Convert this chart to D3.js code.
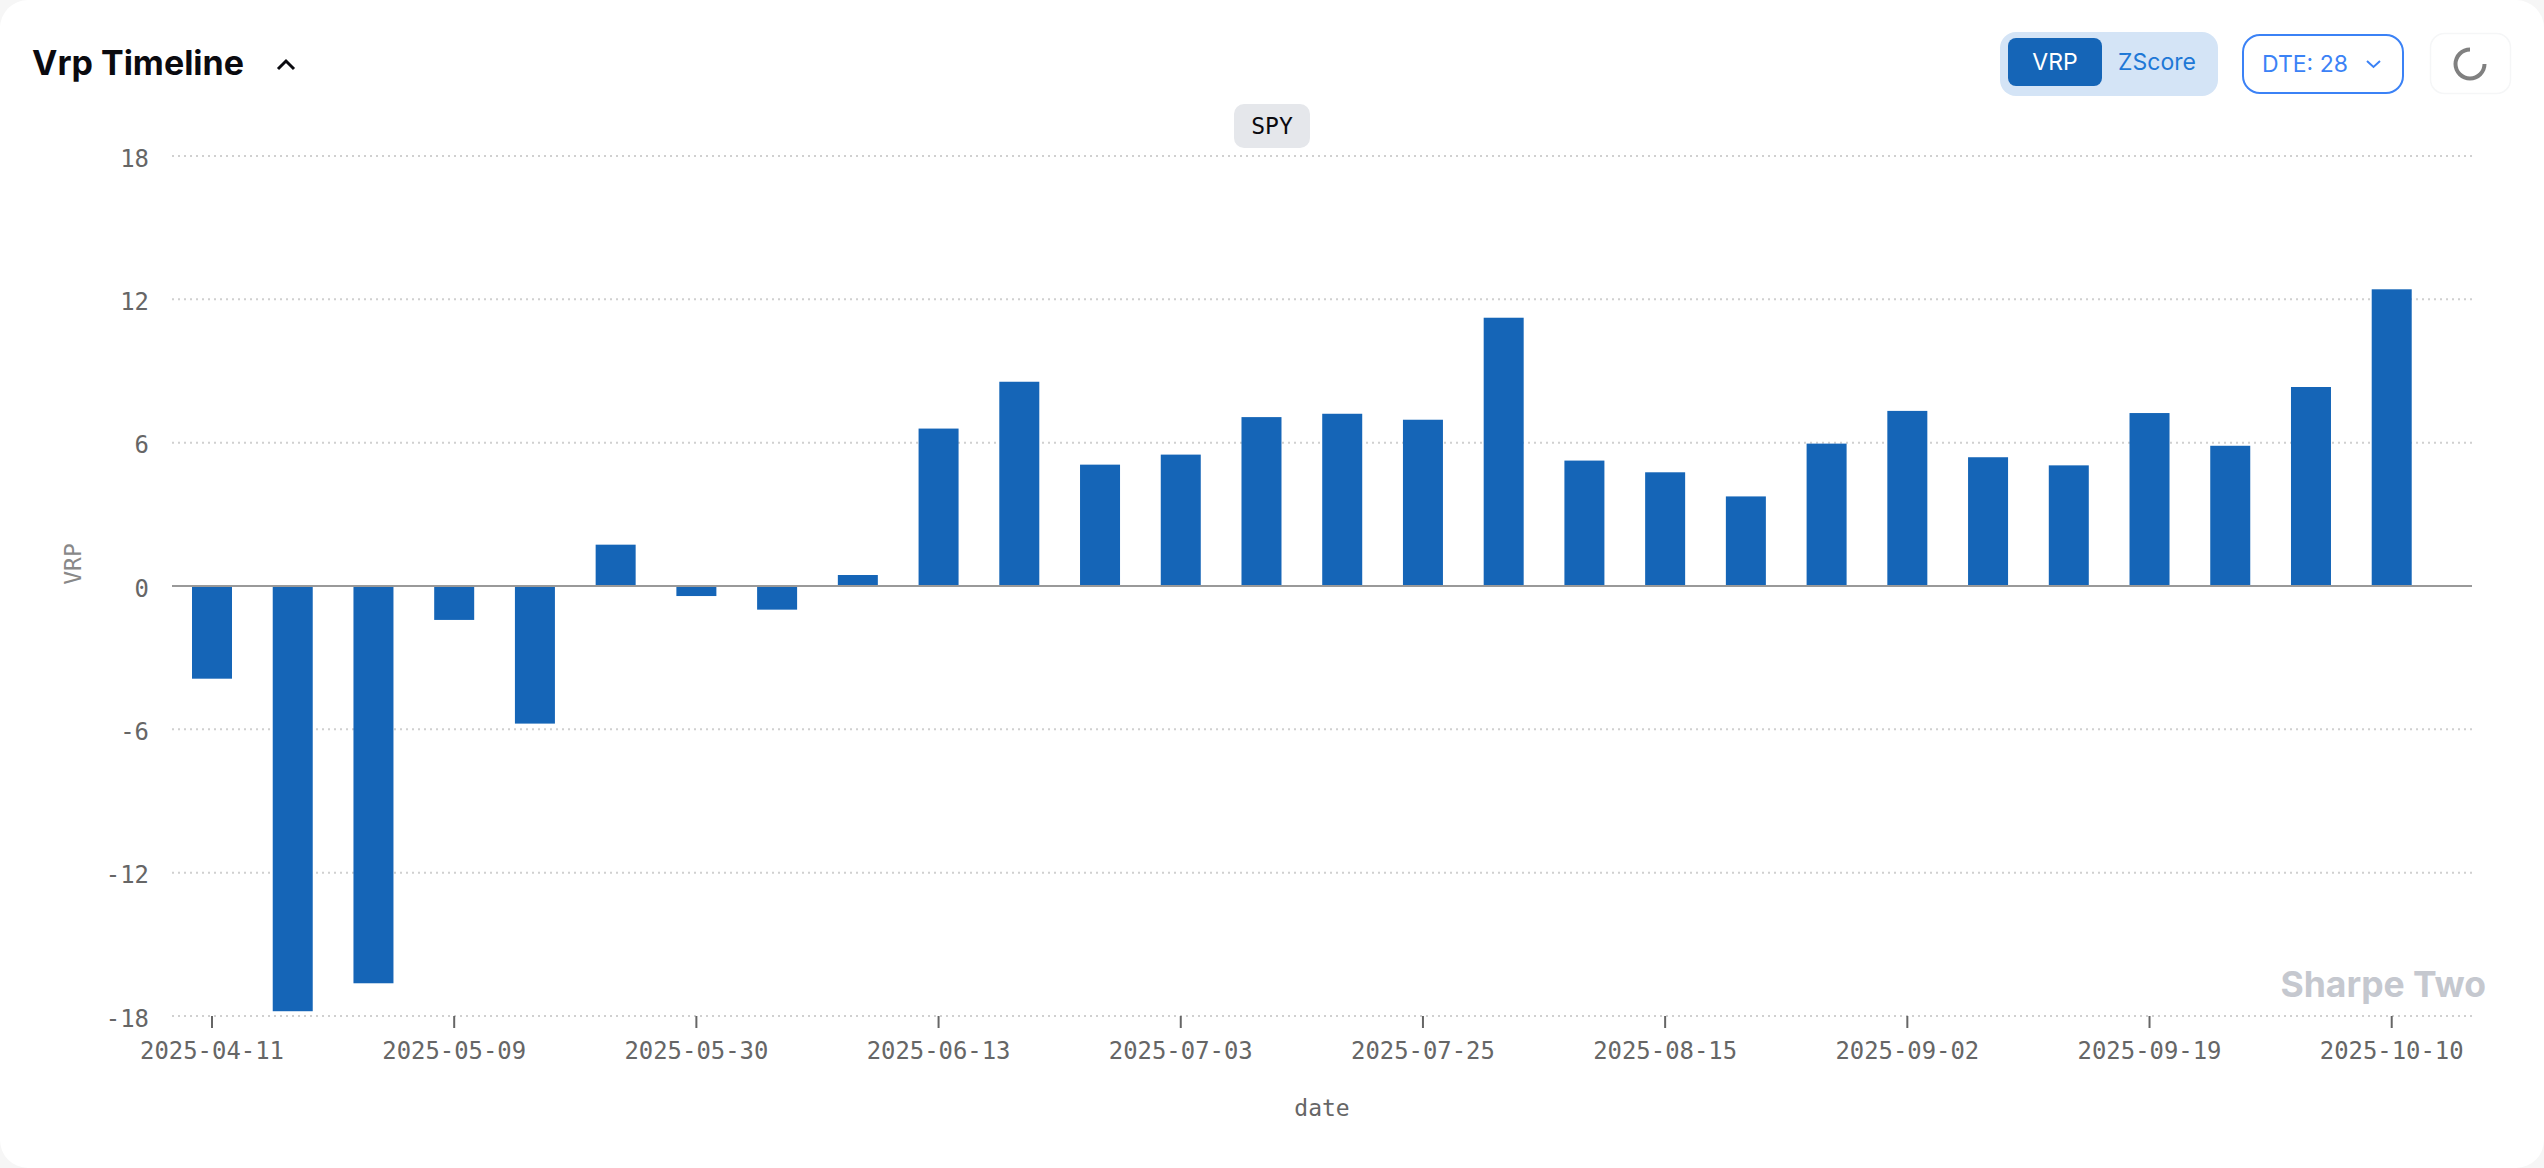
<!DOCTYPE html>
<html><head><meta charset="utf-8">
<script src="https://cdn.jsdelivr.net/npm/d3@7"></script>
<style>html,body{margin:0;padding:0;background:#f6f6f6;overflow:hidden}svg{display:block}</style>
</head><body><svg id="c" width="2544" height="1168"></svg>
<script>
const dates = ["2025-04-11","2025-04-21","2025-04-30","2025-05-09","2025-05-16","2025-05-23","2025-05-30","2025-06-04","2025-06-09","2025-06-13","2025-06-20","2025-06-27","2025-07-03","2025-07-11","2025-07-18","2025-07-25","2025-08-01","2025-08-08","2025-08-15","2025-08-21","2025-08-27","2025-09-02","2025-09-08","2025-09-12","2025-09-19","2025-09-26","2025-10-03","2025-10-10"];
const vrp = [-3.88,-17.8,-16.63,-1.42,-5.76,1.73,-0.42,-0.99,0.46,6.59,8.55,5.08,5.50,7.07,7.21,6.96,11.23,5.25,4.76,3.75,5.96,7.33,5.39,5.05,7.24,5.87,8.33,12.42];
const yTicks = [18,12,6,0,-6,-12,-18];
const xTickDates = ["2025-04-11","2025-05-09","2025-05-30","2025-06-13","2025-07-03","2025-07-25","2025-08-15","2025-09-02","2025-09-19","2025-10-10"];
const modes = ["VRP","ZScore"];

const SANS = "Inter, sans-serif", MONO = "'DejaVu Sans Mono', monospace";
const svg = d3.select("#c");
const L = 172, R = 2472, T = 156, B = 1016;
const step = 80.73;
const x = d3.scaleBand().domain(dates).range([212 - step/2, 212 - step/2 + step*dates.length]).paddingInner(1-40/step).paddingOuter((1-40/step)/2);
const y = d3.scaleLinear().domain([-18,18]).range([B,T]);

svg.append("rect").attr("width",2544).attr("height",1168).attr("rx",28).attr("fill","#fff");

// grid
svg.append("g").selectAll("line").data(yTicks.filter(d=>d!==0)).join("line")
  .attr("x1",L).attr("x2",R).attr("y1",d=>y(d)).attr("y2",d=>y(d))
  .attr("stroke","#d0d0d0").attr("stroke-width",2).attr("stroke-dasharray","2 4");

// bars
svg.append("g").selectAll("rect").data(vrp).join("rect")
  .attr("x",(d,i)=>x(dates[i])).attr("width",x.bandwidth())
  .attr("y",d=>y(Math.max(d,0))).attr("height",d=>Math.abs(y(d)-y(0)))
  .attr("fill","#1565b7");

// zero line
svg.append("line").attr("x1",L).attr("x2",R).attr("y1",y(0)).attr("y2",y(0)).attr("stroke","#999").attr("stroke-width",2);

// y axis
const ya = svg.append("g").attr("transform",`translate(${L},0)`)
  .call(d3.axisLeft(y).tickValues(yTicks).tickSize(0).tickPadding(23).tickFormat(String));
ya.select(".domain").remove();
ya.selectAll("text").attr("font-family",MONO).attr("font-size",23.9).attr("fill","#666").attr("dy","0.42em");

// x axis
const xa = svg.append("g").attr("transform",`translate(0,${B})`)
  .call(d3.axisBottom(x).tickValues(xTickDates).tickSize(12).tickPadding(14));
xa.select(".domain").remove();
xa.selectAll("line").attr("stroke","#666").attr("stroke-width",2);
xa.selectAll("text").attr("font-family",MONO).attr("font-size",23.9).attr("fill","#666");

// axis titles
svg.append("text").attr("transform","translate(73,564) rotate(-90)").attr("text-anchor","middle").attr("dominant-baseline","central")
  .attr("font-family",MONO).attr("font-size",23).attr("fill","#888").text("VRP");
svg.append("text").attr("x",(L+R)/2).attr("y",1108).attr("text-anchor","middle").attr("dominant-baseline","central")
  .attr("font-family",MONO).attr("font-size",23).attr("fill","#666").text("date");

// title
svg.append("text").attr("x",32).attr("y",75).attr("font-family",SANS).attr("font-weight",700).attr("font-size",34).attr("fill","#0a0a0f").text("Vrp Timeline");
svg.append("path").attr("d","M278 69 L286 61 L294 69").attr("fill","none").attr("stroke","#0a0a0f").attr("stroke-width",3);

// SPY pill
svg.append("rect").attr("x",1234).attr("y",104).attr("width",76).attr("height",44).attr("rx",10).attr("fill","#e5e7eb");
svg.append("text").attr("x",1272).attr("y",126).attr("text-anchor","middle").attr("dominant-baseline","central")
  .attr("font-family",MONO).attr("font-size",23).attr("fill","#0a0a0f").text("SPY");

// toggle
svg.append("rect").attr("x",2000).attr("y",32).attr("width",218).attr("height",64).attr("rx",16).attr("fill","#d4e4f6");
svg.append("rect").attr("x",2008).attr("y",38).attr("width",94).attr("height",48).attr("rx",8).attr("fill","#1565b7");
svg.selectAll(".mode").data(modes).join("text").attr("class","mode")
  .attr("x",(d,i)=>i?2157:2055).attr("y",62).attr("text-anchor","middle").attr("dominant-baseline","central")
  .attr("font-family",SANS).attr("font-size",23).attr("fill",(d,i)=>i?"#1e78d6":"#fff").text(d=>d);

// DTE
svg.append("rect").attr("x",2243).attr("y",35).attr("width",160).attr("height",58).attr("rx",17).attr("fill","#fff").attr("stroke","#3b82f6").attr("stroke-width",2);
svg.append("text").attr("x",2262).attr("y",64).attr("dominant-baseline","central").attr("font-family",SANS).attr("font-size",23).attr("fill","#3b82f6").text("DTE: 28");
svg.append("path").attr("d","M2367 61 L2373.5 67 L2380 61").attr("fill","none").attr("stroke","#3b82f6").attr("stroke-width",2);

// reload
svg.append("rect").attr("x",2430.5).attr("y",33.5).attr("width",80).attr("height",60).attr("rx",14).attr("fill","#fff").attr("stroke","#f5f6f7").attr("stroke-width",1.5);
svg.append("path").attr("transform","translate(2470,64)")
  .attr("d",d3.arc().innerRadius(12.5).outerRadius(16.5).startAngle(Math.PI/2).endAngle(Math.PI*2)())
  .attr("fill","#808080");

// watermark
svg.append("text").attr("x",2486).attr("y",997).attr("text-anchor","end").attr("font-family",SANS).attr("font-weight",700).attr("font-size",35.5).attr("fill","#c5c8cf").text("Sharpe Two");
</script></body></html>
